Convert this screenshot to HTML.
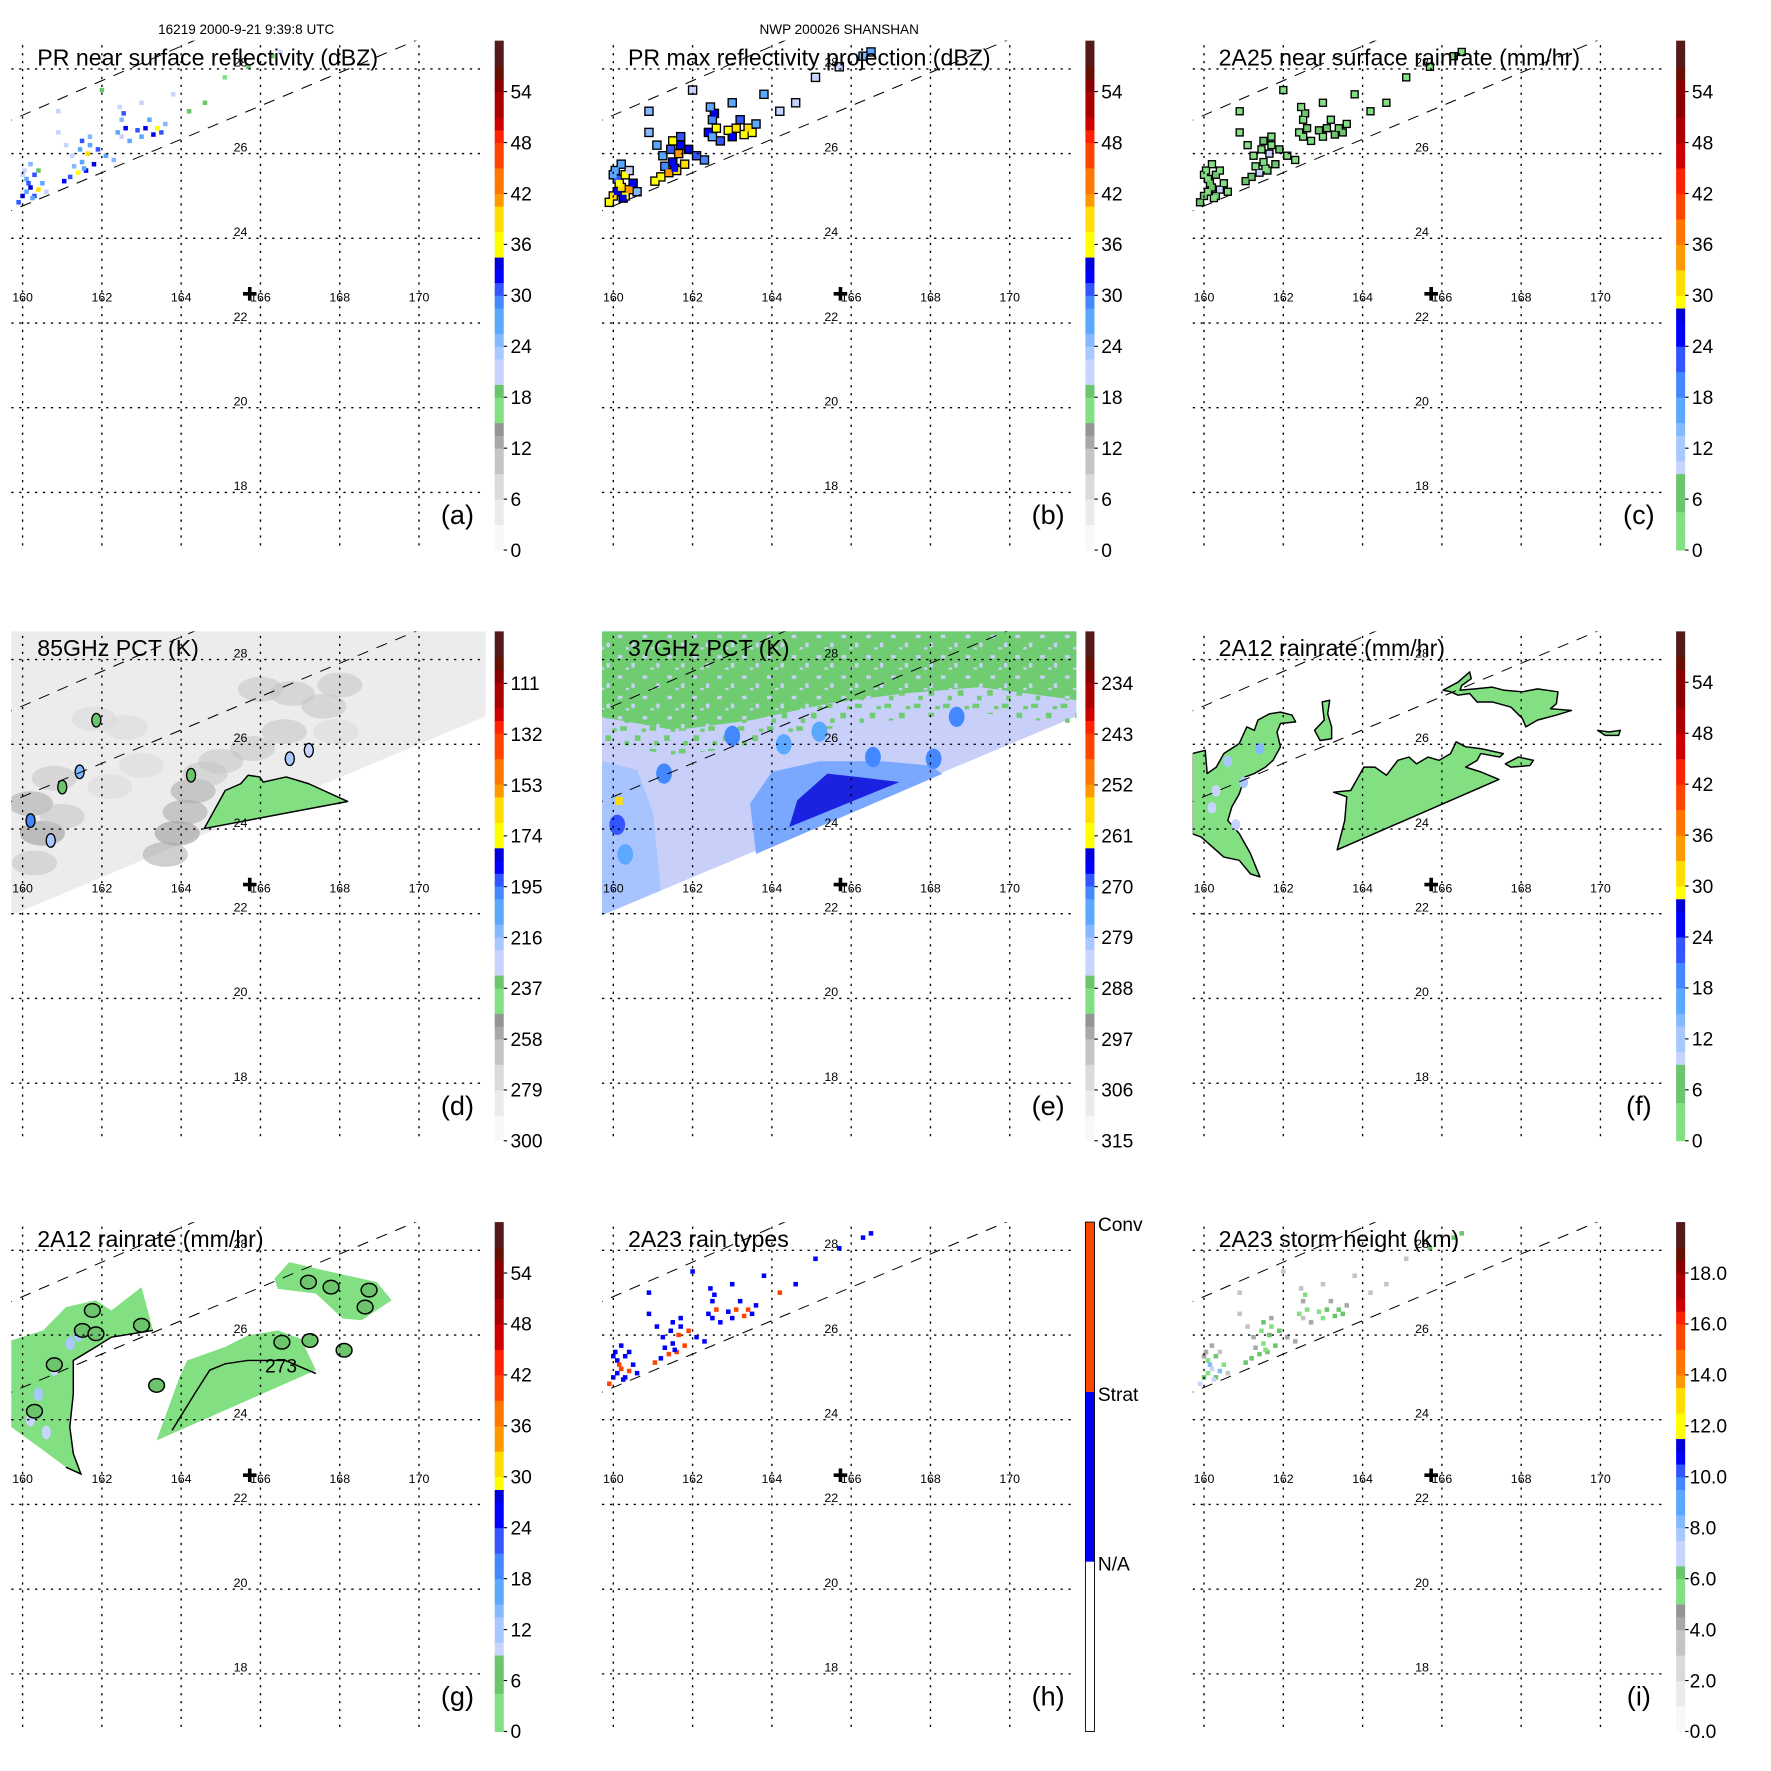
<!DOCTYPE html>
<html><head><meta charset="utf-8"><title>TRMM SHANSHAN panels</title>
<style>html,body{margin:0;padding:0;background:#fff}svg{display:block;font-family:"Liberation Sans",Arial,sans-serif}</style>
</head><body>
<svg id="fig" xmlns="http://www.w3.org/2000/svg" width="1771" height="1771" viewBox="0 0 1568 1568">
<defs>
<pattern id="speckG" width="26" height="20" patternUnits="userSpaceOnUse">
<rect x="0" y="0" width="6" height="4" fill="#70cc70"/><rect x="13" y="8" width="5" height="5" fill="#70cc70"/><rect x="4" y="13" width="4" height="4" fill="#70cc70"/><rect x="19" y="2" width="4" height="3" fill="#70cc70"/></pattern>
<pattern id="speckL" width="22" height="18" patternUnits="userSpaceOnUse">
<rect x="2" y="3" width="4" height="3" fill="#c8d0fa"/><rect x="14" y="10" width="3" height="4" fill="#c8d0fa"/><rect x="9" y="14" width="3" height="2" fill="#c8d0fa"/></pattern>
</defs>
<text x="218" y="30" font-size="12" text-anchor="middle">16219 2000-9-21 9:39:8 UTC</text>
<text x="743" y="30" font-size="12" text-anchor="middle">NWP 200026 SHANSHAN</text>
</svg>
<script>
// ---------- data ----------
const lonTicks=[160,162,164,166,168,170];
const latTicks=[28,26,24,22,20,18];
const swathLon=[159.7,171.7,171.7,159.7];
const swathLat=[21.96,26.67,29.5,29.5];
const dashLoLon=[159.0,170.2];const dashLoLat=[24.37,28.78];
const dashHiLon=[159.0,164.6];const dashHiLat=[26.5,28.78];
const stormLon=165.73, stormLat=22.69;

const prLon=[160.00,160.10,160.20,160.30,160.40,160.10,160.30,160.50,160.20,160.05,160.60,159.90,160.40,161.20,161.40,161.60,161.50,161.80,161.30,161.45,161.50,161.70,161.90,161.10,160.90,161.65,162.40,162.50,162.55,162.60,162.70,162.45,162.90,163.10,163.30,163.50,163.20,163.60,163.00,162.30,163.00,160.90,164.60,165.70,166.30,165.10,163.80,160.15,160.25,161.05,161.55,162.10,163.40,161.70,162.50,160.00,161.25,166.50,162.00,164.20];
const prLat=[25.00,25.10,25.20,25.00,25.15,25.40,25.50,25.30,25.75,25.60,25.10,24.85,25.60,25.45,25.55,25.60,25.80,25.75,25.70,26.10,26.30,26.40,26.10,26.20,26.50,26.00,26.50,26.80,26.95,26.60,26.30,27.10,26.55,26.60,26.45,26.50,26.80,26.70,26.40,25.85,27.20,27.00,27.20,28.05,28.30,27.80,27.40,25.30,24.95,25.35,25.65,25.95,26.60,26.20,26.40,25.50,25.95,28.40,27.50,27.00];
const prRefl=[32,28,34,30,38,26,30,28,24,22,20,30,18,30,36,32,28,34,24,26,30,24,30,22,20,38,28,24,30,32,26,22,30,34,32,30,26,24,28,24,22,20,18,18,18,17,22,30,28,32,28,26,36,28,22,20,22,20,18,18];
const prMax=[38,34,40,36,42,30,35,33,28,27,25,36,22,36,42,38,33,39,29,31,35,30,34,26,24,42,33,29,34,36,31,27,35,38,37,35,31,28,33,29,26,24,22,22,24,20,26,36,34,37,33,30,40,32,26,26,26,26,22,22];
const prRain=[6,4,8,5,10,3,5,4,2,2,1,5,1,5,9,6,4,7,2,3,5,2,5,2,1,10,4,2,5,6,3,2,5,7,6,5,3,2,4,2,2,1,1,1,1,1,2,5,4,6,4,3,8,4,2,1,2,1,1,1];
const prType=[1,1,2,1,2,1,1,1,1,1,1,2,1,1,2,2,1,2,1,1,1,1,2,1,1,2,1,1,1,2,1,1,1,2,2,1,1,1,1,1,1,1,1,1,1,1,1,2,1,2,1,1,2,1,1,1,1,1,1,2];
const prHt=[6.5,5.5,7,6,8,5,6,5,4,4,3,7,3,6,6,6,5,6,4,5,6,4,6,3,3,6,5,4,5,5,4,3,5,6,6,6,4,4,5,4,3,3,3,6,6,3,3,8,7,6,5,4,6,5,3,4,4,6,3,3];

const d85Lon=[163.9,164.1,164.3,164.6,165.0,166.0,166.8,167.6,168.0,160.2,160.5,161.0,160.8,162.6,161.8,162.2,163.0,165.8,166.6,167.9,163.6,160.3];
const d85Lat=[23.9,24.4,24.9,25.3,25.6,27.3,27.2,26.9,27.4,24.6,23.9,24.3,25.2,26.4,26.6,25.0,25.5,25.9,26.3,26.3,23.4,23.2];
const d85Val=[252,254,256,260,264,262,260,258,266,254,252,262,264,270,270,272,274,264,266,272,256,258];
const d85GreenLon=[164.58,165.11,165.50,165.69,165.98,166.07,166.65,167.22,168.2];
const d85GreenLat=[24.01,24.91,25.07,25.27,25.23,25.11,25.23,25.07,24.65];
const d85BlobLon=[161.44,161.86,164.25,166.74,167.22,160.71,161.0,160.2];
const d85BlobLat=[25.35,26.57,25.27,25.66,25.86,23.73,24.99,24.2];
const d85BlobVal=[215,235,235,220,225,220,235,200];

const e37GreenLon=[159.66,161.57,163.49,165.40,167.32,169.23,171.72,171.72,159.66];
const e37GreenLat=[26.65,26.33,26.57,26.96,27.20,27.35,27.04,29.5,29.5];
const e37MidLon=[163.6,163.45,164.0,165.2,166.8,168.0,168.3];
const e37MidLat=[23.41,24.6,25.35,25.6,25.6,25.5,25.3];
const e37DarkLon=[164.44,164.64,165.40,166.17,167.22];
const e37DarkLat=[24.05,24.68,25.31,25.23,25.11];
const e37LeftLon=[159.7,159.7,160.6,161.0,161.2];
const e37LeftLat=[21.96,25.6,25.4,24.4,22.55];
const e37SpotLon=[160.1,161.28,163.0,168.66,166.55,168.08,165.2,164.3,160.3];
const e37SpotLat=[24.1,25.31,26.2,26.65,25.70,25.66,26.3,26.0,23.4];
const e37SpotVal=[268,272,272,270,272,272,276,276,274];

const f12SouthLon=[163.36,163.55,163.60,163.27,163.70,164.03,164.31,164.60,164.89,165.17,165.36,165.65,165.93,166.22,166.36,166.60,166.98,167.55,167.46,166.98,166.89,166.60,166.98,167.44];
const f12SouthLat=[23.51,24.20,24.76,24.87,24.91,25.46,25.46,25.27,25.62,25.70,25.54,25.70,25.62,25.78,26.06,25.94,25.90,25.78,25.70,25.78,25.62,25.46,25.35,25.17];
const f12NELon=[166.03,166.41,166.70,166.74,166.50,166.46,166.84,167.27,167.55,168.03,168.41,168.93,168.89,168.74,169.27,168.89,168.41,168.12,168.03,167.74,167.27,166.89,166.70,166.41,166.22];
const f12NELat=[27.28,27.47,27.71,27.55,27.39,27.28,27.31,27.35,27.28,27.24,27.31,27.24,26.96,26.84,26.80,26.69,26.57,26.41,26.61,26.88,27.00,27.00,27.20,27.16,27.24];
const f12SmallLon=[167.60,167.93,168.31,168.22,167.74];
const f12SmallLat=[25.54,25.70,25.62,25.50,25.46];
const f12EastLon=[169.93,170.22,170.50,170.46,170.12];
const f12EastLat=[26.33,26.29,26.33,26.21,26.21];
const f12WestLon=[159.70,160.03,160.08,160.31,160.50,160.89,161.08,161.27,161.36,161.65,161.93,162.22,162.31,161.93,161.84,161.93,161.74,161.55,161.27,161.03,160.89,160.70,160.60,160.89,161.17,161.41,161.17,160.89,160.50,160.22,159.93,159.70];
const f12WestLat=[25.78,25.86,25.31,25.46,25.78,26.02,26.41,26.33,26.57,26.72,26.76,26.69,26.53,26.49,26.29,25.94,25.62,25.46,25.31,25.23,24.83,24.52,24.20,23.89,23.42,22.87,22.94,23.26,23.34,23.57,23.81,23.89];
const f12NWLon=[162.98,163.17,163.12,163.22,163.22,162.93,162.79,163.03];
const f12NWLat=[27.00,27.04,26.72,26.41,26.13,26.09,26.33,26.57];
const f12SpotLon=[160.3,160.6,161.0,160.8,161.4,160.2];
const f12SpotLat=[24.9,25.6,25.1,24.1,25.9,24.5];
const f12SpotVal=[10,12,11,10,14,9];

const g12SouthLon=[163.38,163.96,164.15,165.11,165.68,166.44,167.02,167.40];
const g12SouthLat=[23.51,25.01,25.40,25.72,25.99,26.11,25.91,25.17];
const g12NELon=[166.35,166.73,167.59,168.93,169.31,168.55,168.07,167.40,166.44];
const g12NELat=[27.33,27.72,27.53,27.25,26.82,26.35,26.39,26.98,27.09];
const g12WestLon=[159.71,160.52,161.09,161.85,162.24,163.00,163.29,162.24,161.85,161.28,161.28,161.19,161.28,161.47,161.09,160.52,159.71];
const g12WestLat=[25.87,26.11,26.66,26.82,26.58,27.13,26.11,25.95,25.72,25.40,24.61,23.83,23.20,22.72,22.88,23.28,23.83];
const g12ContLon=[163.77,164.34,164.72,165.11,165.68,166.63,167.40];
const g12ContLat=[23.75,24.61,25.17,25.32,25.40,25.40,25.09];
const g12RingLon=[161.76,161.51,161.85,163.0,167.21,167.78,168.74,168.64,166.54,167.25,168.11,163.38,160.8,160.3];
const g12RingLat=[26.58,26.11,26.03,26.23,27.25,27.13,27.06,26.66,25.83,25.87,25.64,24.81,25.3,24.2];
const g12SpotLon=[160.4,160.8,161.2,160.2,160.6,161.4];
const g12SpotLat=[24.6,25.2,25.8,24.0,23.7,26.0];
const g12SpotVal=[11,10,12,9,10,11];

// colorbar tick labels
const cbReflTicks=[0,6,12,18,24,30,36,42,48,54];
const cb85Ticks=[300,279,258,237,216,195,174,153,132,111];
const cb37Ticks=[315,306,297,288,279,270,261,252,243,234];
const cbHtTicks=[0,2,4,6,8,10,12,14,16,18];
const cbTypeLabels=['N/A','Strat','Conv'];

// ---------- drawing ----------
const NS='http://www.w3.org/2000/svg';
const svg=document.getElementById('fig');
function mk(tag,parent,attrs){const e=document.createElementNS(NS,tag);for(const k in attrs)e.setAttribute(k,attrs[k]);parent.appendChild(e);return e;}
const xs=lon=>20+(lon-160)*35.1;
const ys=lat=>61+(28-lat)*37.5;
function pts(lons,lats){return lons.map((l,i)=>xs(l).toFixed(1)+','+ys(lats[i]).toFixed(1)).join(' ');}

const reflSegs=[[0,'#f8f8f8'],[.05,'#ebebeb'],[.10,'#dadada'],[.15,'#c4c4c4'],[.20,'#a8a8a8'],[.225,'#959595'],[.25,'#82e082'],[.29,'#6cc46c'],[.333,'#c8d4ff'],[.37,'#a8c8ff'],[.40,'#84b8ff'],[.43,'#5aa8ff'],[.47,'#4488ff'],[.50,'#3355ff'],[.53,'#0000ff'],[.56,'#0000dd'],[.583,'#ffff00'],[.62,'#ffdd00'],[.667,'#ff9900'],[.71,'#ff7700'],[.75,'#ff4400'],[.79,'#ff2200'],[.82,'#cc0000'],[.85,'#aa0000'],[.89,'#880000'],[.92,'#661100'],[.96,'#551a1a']];
const rainSegs=[[0,'#82e082'],[.07,'#6cc46c'],[.138,'#c8d4ff'],[.18,'#a8c8ff'],[.22,'#84b8ff'],[.26,'#5aa8ff'],[.30,'#4488ff'],[.35,'#3355ff'],[.40,'#0000ff'],[.44,'#0000dd'],[.467,'#ffff00'],[.51,'#ffdd00'],[.55,'#ff9900'],[.60,'#ff7700'],[.65,'#ff4400'],[.70,'#ff2200'],[.75,'#cc0000'],[.80,'#aa0000'],[.85,'#880000'],[.92,'#661100'],[.96,'#551a1a']];
function cmap(segs,f){f=Math.max(0,Math.min(0.999,f));let c=segs[0][1];for(const s of segs){if(f>=s[0])c=s[1];}return c;}

const cols=[0,523,1046],rows=[0,523,1046];
const panels=[
 {id:'a',title:'PR near surface reflectivity (dBZ)',segs:reflSegs,v0:0,v1:60},
 {id:'b',title:'PR max reflectivity projection (dBZ)',segs:reflSegs,v0:0,v1:60},
 {id:'c',title:'2A25 near surface rainrate (mm/hr)',segs:rainSegs,v0:0,v1:60},
 {id:'d',title:'85GHz PCT (K)',segs:reflSegs,v0:300,v1:89.5},
 {id:'e',title:'37GHz PCT (K)',segs:reflSegs,v0:315,v1:224.8},
 {id:'f',title:'2A12 rainrate (mm/hr)',segs:rainSegs,v0:0,v1:60},
 {id:'g',title:'2A12 rainrate (mm/hr)',segs:rainSegs,v0:0,v1:60},
 {id:'h',title:'2A23 rain types',segs:null,v0:0,v1:3},
 {id:'i',title:'2A23 storm height (km)',segs:reflSegs,v0:0,v1:20}
];
const fr=(p,v)=>(v-p.v0)/(p.v1-p.v0);
const col=(p,v)=>cmap(p.segs,fr(p,v));
const cby=(p,v)=>487-fr(p,v)*451;

panels.forEach((p,k)=>{
 const g=mk('g',svg,{transform:`translate(${cols[k%3]},${rows[Math.floor(k/3)]})`});
 
 
 const cp=mk('clipPath',g,{id:'clip'+p.id});
 mk('rect',cp,{x:10,y:36,width:420,height:451});
 const data=mk('g',g,{'clip-path':`url(#clip${p.id})`});
 
 
 p.g=g;p.data=data;
});

function poly(parent,lons,lats,fill,stroke,name){
 const e=mk('polygon',parent,{points:pts(lons,lats),fill:fill,stroke:stroke||'none','stroke-width':1.3,'stroke-linejoin':'round'});
 
 
 return e;
}
function cells(p,vals,size,outline,colorFn,name){
 if(outline){prLon.forEach((l,i)=>{const r=mk('rect',p.data,{x:xs(l)-size/2-1.2,y:ys(prLat[i])-size/2-1.2,width:size+2.4,height:size+2.4,fill:'#000'});
  
  });}
 prLon.forEach((l,i)=>{const r=mk('rect',p.data,{x:xs(l)-size/2,y:ys(prLat[i])-size/2,width:size,height:size,fill:colorFn(vals[i])});
  
  });
}
function spots(p,lons,lats,vals,rx,ry,name,op){
 lons.forEach((l,i)=>{const e=mk('ellipse',p.data,{cx:xs(l),cy:ys(lats[i]),rx:rx,ry:ry,fill:col(p,vals[i]),opacity:op||1});
  
  });
}

// (a)
cells(panels[0],prRefl,4,false,v=>col(panels[0],v),'refl-cell');
// (b)
cells(panels[1],prMax,6,true,v=>col(panels[1],v),'maxrefl-cell');
// (c)
cells(panels[2],prRain,5,true,v=>col(panels[2],v),'rain-cell');
// (d)
{const p=panels[3];
 poly(p.data,swathLon,swathLat,'#ececec',null,'tmi-swath');
 spots(p,d85Lon,d85Lat,d85Val,20,11,'pct85-shade',0.55);
 poly(p.data,d85GreenLon,d85GreenLat,col(p,240),'#000','pct85-low-region');
 spots(p,d85BlobLon,d85BlobLat,d85BlobVal,4,6,'pct85-blob');
 d85BlobLon.forEach((l,i)=>{const e=mk('ellipse',p.data,{cx:xs(l),cy:ys(d85BlobLat[i]),rx:4,ry:6,fill:'none',stroke:'#000','stroke-width':1.2});
  
  });
}
// (e)
{const p=panels[4];
 poly(p.data,swathLon,swathLat,'#c8d0fa',null,'tmi-swath');
 poly(p.data,e37LeftLon,e37LeftLat,'#a8c4ff',null,'pct37-left-region');
 poly(p.data,e37GreenLon,e37GreenLat,'#70cc70',null,'pct37-warm-region');
 poly(p.data,e37GreenLon,e37GreenLat,'url(#speckL)',null,'pct37-speckle');
 const bandLat=e37GreenLat.map((v,i)=>i<7?v-0.6:v);
 const bl=e37GreenLon.slice(0,7).concat(e37GreenLon.slice(0,7).reverse());
 const bt=bandLat.slice(0,7).concat(e37GreenLat.slice(0,7).reverse());
 poly(p.data,bl,bt,'url(#speckG)',null,'pct37-transition');
 poly(p.data,[163.6,163.45,164.0,165.2,166.8,168.0,168.3,168.3],[23.41,24.6,25.35,25.6,25.6,25.5,25.3,25.3],'#7aa8ff',null,'pct37-mid-region');
 const dl=e37DarkLon.concat([163.9]),dt=e37DarkLat.concat([23.84]);
 poly(p.data,dl,dt,'#1a22e0',null,'pct37-deep-region');
 spots(p,e37SpotLon,e37SpotLat,e37SpotVal,7,9,'pct37-spot');
 const y=mk('rect',p.data,{x:xs(160.15)-3,y:ys(24.65)-4,width:6,height:7,fill:'#ffdd00'});
 
 
}
// (f)
{const p=panels[5];
 poly(p.data,f12WestLon,f12WestLat,'#82e082','#000','rain-west');
 poly(p.data,f12NWLon,f12NWLat,'#82e082','#000','rain-nw');
 poly(p.data,f12SouthLon,f12SouthLat,'#82e082','#000','rain-south');
 poly(p.data,f12NELon,f12NELat,'#82e082','#000','rain-ne');
 poly(p.data,f12SmallLon,f12SmallLat,'#82e082','#000','rain-small');
 poly(p.data,f12EastLon,f12EastLat,'#82e082','#000','rain-east');
 spots(p,f12SpotLon,f12SpotLat,f12SpotVal,4,5,'rain-spot');
}
// (g)
{const p=panels[6];
 poly(p.data,g12WestLon,g12WestLat,'#82e082',null,'rain-west');
 poly(p.data,g12SouthLon,g12SouthLat,'#82e082',null,'rain-south');
 poly(p.data,g12NELon,g12NELat,'#82e082',null,'rain-ne');
 spots(p,g12SpotLon,g12SpotLat,g12SpotVal,4,6,'rain-spot');
 const c=mk('polyline',p.data,{points:pts(g12ContLon,g12ContLat),fill:'none',stroke:'#000','stroke-width':1.3});
 
 
 const wl=mk('polyline',p.data,{points:pts(g12WestLon.slice(6,15),g12WestLat.slice(6,15)),fill:'none',stroke:'#000','stroke-width':1.3});
 
 
 g12RingLon.forEach((l,i)=>{const e=mk('ellipse',p.data,{cx:xs(l),cy:ys(g12RingLat[i]),rx:7,ry:6,fill:'#6cc46c',stroke:'#000','stroke-width':1.3});
  
  });
 const t=mk('text',p.data,{x:xs(166.52),y:ys(25.28)+6,'font-size':17,'text-anchor':'middle'});t.textContent='273';
 
 
}
// (h)
cells(panels[7],prType,4,false,v=>v===2?'#ff4400':'#0000ff','raintype-cell');
// (i)
cells(panels[8],prHt,4,false,v=>col(panels[8],v),'height-cell');

// overlays: swath edges, grid, labels, colorbars
panels.forEach((p,k)=>{
 const g=p.g;
 [[dashLoLon,dashLoLat],[dashHiLon,dashHiLat]].forEach((d,j)=>{
  const l=mk('line',p.data,{x1:xs(d[0][0]),y1:ys(d[1][0]),x2:xs(d[0][1]),y2:ys(d[1][1]),stroke:'#000','stroke-width':0.9,'stroke-dasharray':'10 8'});
  
  
 });
 lonTicks.forEach(lon=>{
  const l=mk('line',g,{x1:xs(lon),y1:40,x2:xs(lon),y2:487,stroke:'#000','stroke-width':1.2,'stroke-dasharray':'2 5'});
  
  
  const t=mk('text',g,{x:xs(lon),y:267,'font-size':11,'text-anchor':'middle'});t.textContent=lon;
  
  
 });
 latTicks.forEach(lat=>{
  const l=mk('line',g,{x1:10,y1:ys(lat),x2:430,y2:ys(lat),stroke:'#000','stroke-width':1.2,'stroke-dasharray':'2 5'});
  
  
  const t=mk('text',g,{x:213,y:ys(lat)-2,'font-size':11,'text-anchor':'middle'});t.textContent=lat;
  
  
 });
 const cx=xs(stormLon),cy=ys(stormLat);
 const cr=mk('path',g,{d:`M${cx-6},${cy-1.6}h12v3.2h-12z M${cx-1.6},${cy-6}h3.2v12h-3.2z`,fill:'#000'});
 
 
 const ti=mk('text',g,{x:33,y:58,'font-size':20.5});ti.textContent=p.title;
 
 
 const tg=mk('text',g,{x:405,y:464,'font-size':24,'text-anchor':'middle'});tg.textContent='('+p.id+')';
 
 
 const cb=mk('g',g,{});
 
 
 if(p.segs){
  const n=40;
  for(let i=0;i<n;i++){
   const f0=i/n;
   const r=mk('rect',cb,{x:438,y:487-(i+1)*451/n,width:8,height:451/n+0.4,fill:cmap(p.segs,f0+0.5/n)});
   
   
  }
  const ticks=p.id==='d'?cb85Ticks:p.id==='e'?cb37Ticks:p.id==='i'?cbHtTicks:cbReflTicks;
  ticks.forEach(v=>{
   const y=cby(p,v);
   const tk=mk('line',cb,{x1:446,y1:y,x2:449,y2:y,stroke:'#000','stroke-width':1});
   
   
   const t=mk('text',cb,{x:p.id==='i'?450:452,y:y+6,'font-size':17});
   t.textContent=p.id==='i'?v.toFixed(1):String(v);
   
   
  });
 } else {
  const bands=[['#ffffff',0],['#0000ff',1],['#ff4400',2]];
  bands.forEach(b=>{
   const r=mk('rect',cb,{x:438,y:cby(p,b[1]+1),width:8,height:451/3,fill:b[0]});
   
   
  });
  const o=mk('rect',cb,{x:438,y:36,width:8,height:451,fill:'none',stroke:'#000','stroke-width':0.8});
  
  
  cbTypeLabels.forEach((s,i)=>{
   const t=mk('text',cb,{x:449,y:cby(p,i+1)+8,'font-size':17});t.textContent=s;
   
   
  });
 }
});
</script>
</body></html>
